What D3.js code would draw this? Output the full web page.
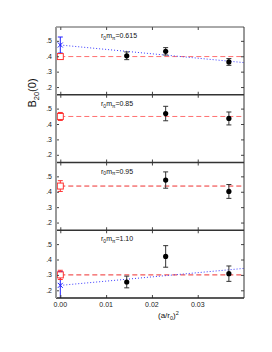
<!DOCTYPE html>
<html>
<head>
<meta charset="utf-8">
<script src="https://cdn.jsdelivr.net/npm/d3@7"></script>
<style>
  body { margin: 0; background: #fff; }
  text { font-family: "Liberation Sans", Arial, sans-serif; }
</style>
</head>
<body>
<script>
// data
var xPoints = [0.0145, 0.0230, 0.0368];
var massLabels = ["0.615", "0.85", "0.95", "1.10"];
var yTicks = [0.2, 0.3, 0.4, 0.5];
var xTicks = [0.00, 0.01, 0.02, 0.03];

var pointVals = [
    [0.403, 0.432, 0.363],
    [null, 0.468, 0.436],
    [null, 0.476, 0.402],
    [0.254, 0.420, 0.308]
];
var pointErrs = [
    [0.025, 0.024, 0.022],
    [null, 0.047, 0.042],
    [null, 0.053, 0.045],
    [0.038, 0.070, 0.050]
];

// constant fit (red) at a=0
var constVals = [0.398, 0.449, 0.437, 0.300];
var constErrs = [0.012, 0.026, 0.035, 0.030];

// linear fit (blue), only panels 1 and 4
var linIntercepts = [0.473, null, null, 0.232];
var linErrs = [0.052, null, null, 0.090];
var linSlopes = [-2.85, null, null, 2.75];

var width = 272, height = 352;
var plotL = 56, plotR = 244, plotT = 27, panelH = 67.75;

var svg = d3.select("body").append("svg")
    .attr("width", width)
    .attr("height", height);

var x = d3.scaleLinear().domain([-0.00094, 0.0401]).range([plotL, plotR]);
var xEnd = 0.0401;

massLabels.forEach(function(lab, i) {
    var y0 = plotT + i * panelH;
    var y = d3.scaleLinear().domain([0.15, 0.59]).range([y0 + panelH, y0]);
    var g = svg.append("g");

    var clipId = "clip" + i;
    svg.append("clipPath").attr("id", clipId)
        .append("rect")
        .attr("x", plotL).attr("y", y0)
        .attr("width", plotR - plotL).attr("height", panelH);

    var plot = g.append("g").attr("clip-path", "url(#" + clipId + ")");

    // red dashed constant line
    plot.append("line")
        .attr("x1", x(0)).attr("x2", x(xEnd))
        .attr("y1", y(constVals[i])).attr("y2", y(constVals[i]))
        .attr("stroke", i < 2 ? "#ff7070" : "#ee3030")
        .attr("stroke-width", 1)
        .attr("stroke-dasharray", "5,3");

    // blue dotted linear fit
    if (linIntercepts[i] != null) {
        plot.append("line")
            .attr("x1", x(0)).attr("x2", x(xEnd))
            .attr("y1", y(linIntercepts[i]))
            .attr("y2", y(linIntercepts[i] + linSlopes[i] * xEnd))
            .attr("stroke", "#3a3aff")
            .attr("stroke-width", 1)
            .attr("stroke-dasharray", "1,2");

        var bl = linIntercepts[i] - linErrs[i], bh = linIntercepts[i] + linErrs[i];
        plot.append("line")
            .attr("x1", x(0)).attr("x2", x(0))
            .attr("y1", y(bl)).attr("y2", y(bh))
            .attr("stroke", "#2020ff").attr("stroke-width", 1);
        [bl, bh].forEach(function(v) {
            plot.append("line")
                .attr("x1", x(0) - 2.5).attr("x2", x(0) + 2.5)
                .attr("y1", y(v)).attr("y2", y(v))
                .attr("stroke", "#2020ff").attr("stroke-width", 1);
        });
        var bx = x(0), by = y(linIntercepts[i]);
        plot.append("path")
            .attr("d", "M" + (bx - 2.5) + "," + (by - 2.5) + "L" + (bx + 2.5) + "," + (by + 2.5) +
                       "M" + (bx - 2.5) + "," + (by + 2.5) + "L" + (bx + 2.5) + "," + (by - 2.5))
            .attr("stroke", "#2020ff").attr("stroke-width", 1).attr("fill", "none");
    }

    // red square with error bar
    var rl = constVals[i] - constErrs[i], rh = constVals[i] + constErrs[i];
    plot.append("line")
        .attr("x1", x(0)).attr("x2", x(0))
        .attr("y1", y(rl)).attr("y2", y(rh))
        .attr("stroke", "#ff3030").attr("stroke-width", 1);
    [rl, rh].forEach(function(v) {
        plot.append("line")
            .attr("x1", x(0) - 2.5).attr("x2", x(0) + 2.5)
            .attr("y1", y(v)).attr("y2", y(v))
            .attr("stroke", "#ff3030").attr("stroke-width", 1);
    });
    plot.append("rect")
        .attr("x", x(0) - 3).attr("y", y(constVals[i]) - 3)
        .attr("width", 6).attr("height", 6)
        .attr("fill", "#fff").attr("stroke", "#ff3030").attr("stroke-width", 1);

    // black data points
    var pts = xPoints.map(function(xv, j) {
        return { x: xv, v: pointVals[i][j], e: pointErrs[i][j] };
    }).filter(function(d) { return d.v != null; });

    var pg = plot.selectAll(".pt").data(pts).enter().append("g");
    pg.append("line")
        .attr("x1", function(d) { return x(d.x); })
        .attr("x2", function(d) { return x(d.x); })
        .attr("y1", function(d) { return y(d.v - d.e); })
        .attr("y2", function(d) { return y(d.v + d.e); })
        .attr("stroke", "#333").attr("stroke-width", 1);
    pg.append("line")
        .attr("x1", function(d) { return x(d.x) - 2.5; })
        .attr("x2", function(d) { return x(d.x) + 2.5; })
        .attr("y1", function(d) { return y(d.v - d.e); })
        .attr("y2", function(d) { return y(d.v - d.e); })
        .attr("stroke", "#333").attr("stroke-width", 1);
    pg.append("line")
        .attr("x1", function(d) { return x(d.x) - 2.5; })
        .attr("x2", function(d) { return x(d.x) + 2.5; })
        .attr("y1", function(d) { return y(d.v + d.e); })
        .attr("y2", function(d) { return y(d.v + d.e); })
        .attr("stroke", "#333").attr("stroke-width", 1);
    pg.append("circle")
        .attr("cx", function(d) { return x(d.x); })
        .attr("cy", function(d) { return y(d.v); })
        .attr("r", 2.6)
        .attr("fill", "#000");

    // axes ticks
    function styleTicks(a) {
        a.select(".domain").remove();
        a.selectAll("line").attr("stroke", "#444");
    }
    g.append("g").attr("transform", "translate(" + plotL + ",0)")
        .call(d3.axisRight(y).tickValues(yTicks).tickSize(3).tickFormat(""))
        .call(styleTicks);
    g.append("g").attr("transform", "translate(" + plotR + ",0)")
        .call(d3.axisLeft(y).tickValues(yTicks).tickSize(3).tickFormat(""))
        .call(styleTicks);
    g.append("g").attr("transform", "translate(0," + y0 + ")")
        .call(d3.axisBottom(x).tickValues(xTicks).tickSize(3).tickFormat(""))
        .call(styleTicks);
    g.append("g").attr("transform", "translate(0," + (y0 + panelH) + ")")
        .call(d3.axisTop(x).tickValues(xTicks).tickSize(3).tickFormat(""))
        .call(styleTicks);

    // y tick labels
    g.selectAll(".yl").data(yTicks).enter().append("text")
        .attr("x", plotL - 4)
        .attr("y", function(d) { return y(d) + 2.5; })
        .attr("text-anchor", "end")
        .attr("font-size", 7)
        .attr("fill", "#222")
        .text(function(d) { return d3.format(".1f")(d).replace(/^0/, ""); });

    // panel label r0 m_pi = ...
    var t = g.append("text")
        .attr("x", 101).attr("y", y0 + 11)
        .attr("font-size", 7).attr("fill", "#111");
    t.append("tspan").text("r");
    t.append("tspan").attr("dy", 1.8).attr("font-size", 5).text("0");
    t.append("tspan").attr("dy", -1.8).text("m");
    t.append("tspan").attr("dy", 1.8).attr("font-size", 5).text("π");
    t.append("tspan").attr("dy", -1.8).text("=" + lab);

    // panel top line
    g.append("line")
        .attr("x1", plotL).attr("x2", plotR)
        .attr("y1", y0).attr("y2", y0)
        .attr("stroke", i == 0 ? "#555" : "#333").attr("stroke-width", i == 0 ? 1 : 1.5);
});

var plotB = plotT + 4 * panelH;
svg.append("line")
    .attr("x1", plotL).attr("x2", plotR)
    .attr("y1", plotB).attr("y2", plotB)
    .attr("stroke", "#222").attr("stroke-width", 1.5);
svg.append("line")
    .attr("x1", plotR).attr("x2", plotR)
    .attr("y1", plotT).attr("y2", plotB)
    .attr("stroke", "#333").attr("stroke-width", 1);
svg.append("line")
    .attr("x1", plotL).attr("x2", plotL)
    .attr("y1", plotT).attr("y2", plotB)
    .attr("stroke", "#999").attr("stroke-width", 2);

// x tick labels
svg.selectAll(".xl").data(xTicks).enter().append("text")
    .attr("x", function(d) { return x(d); })
    .attr("y", plotB + 9)
    .attr("text-anchor", "middle")
    .attr("font-size", 7)
    .attr("fill", "#222")
    .text(function(d) { return d3.format(".2f")(d); });

// x axis label (a/r0)^2
var xl = svg.append("text")
    .attr("x", 158).attr("y", 318)
    .attr("font-size", 8).attr("fill", "#111");
xl.append("tspan").text("(a/r");
xl.append("tspan").attr("dy", 2).attr("font-size", 5.5).text("0");
xl.append("tspan").attr("dy", -2).text(")");
xl.append("tspan").attr("dy", -3).attr("font-size", 5.5).text("2");

// y axis label B20(0)
var yl = svg.append("text")
    .attr("transform", "translate(36,93) rotate(-90)")
    .attr("text-anchor", "middle")
    .attr("font-size", 11).attr("fill", "#111");
yl.append("tspan").text("B");
yl.append("tspan").attr("dy", 2.5).attr("font-size", 7.5).text("20");
yl.append("tspan").attr("dy", -2.5).text("(0)");
</script>
</body>
</html>
